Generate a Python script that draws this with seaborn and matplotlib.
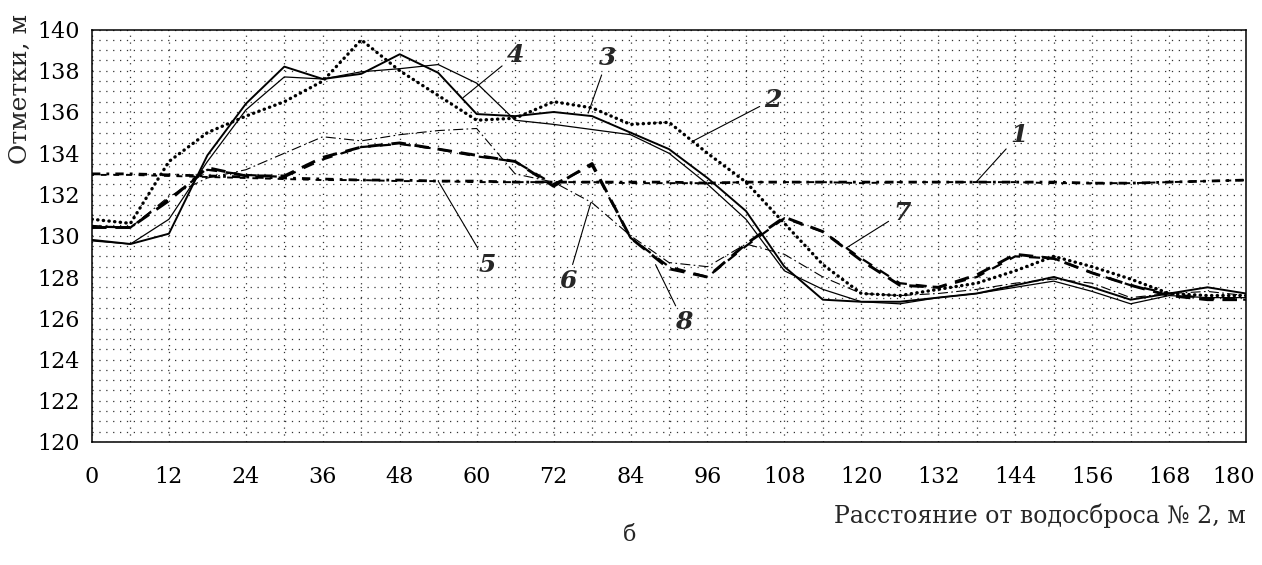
import matplotlib
matplotlib.use("Agg")
import matplotlib.pyplot as plt
import matplotlib.transforms as mtransforms
from matplotlib.ticker import FixedLocator, MultipleLocator
import seaborn as sns

sns.set_style("white")
plt.rcParams['font.family'] = ['DejaVu Serif']

# Distance along the channel, m
dist = [0, 6, 12, 18, 24, 30, 36, 42, 48, 54, 60, 66, 72, 78, 84, 90,
        96, 102, 108, 114, 120, 126, 132, 138, 144, 150, 156, 162, 168, 174, 180]

# Bed elevations, m
curve_1 = [133.0, 133.0, 132.95, 132.9, 132.85, 132.8, 132.75, 132.7, 132.7, 132.65, 132.65,
           132.6, 132.6, 132.6, 132.6, 132.6, 132.55, 132.6, 132.6, 132.6, 132.6, 132.6,
           132.6, 132.6, 132.6, 132.6, 132.55, 132.55, 132.6, 132.65, 132.7]
curve_2 = [130.8, 130.6, 133.6, 135.0, 135.8, 136.5, 137.5, 139.5, 138.0, 136.8, 135.6,
           135.7, 136.5, 136.2, 135.4, 135.5, 134.0, 132.6, 130.6, 128.6, 127.2, 127.1,
           127.4, 127.7, 128.3, 129.0, 128.5, 127.9, 127.2, 127.1, 127.1]
curve_3 = [129.75, 129.6, 130.8, 133.6, 136.1, 137.7, 137.6, 137.95, 138.1, 138.3, 137.4,
           135.6, 135.4, 135.15, 134.9, 134.0, 132.5, 130.8, 128.3, 127.4, 126.8, 126.7,
           127.0, 127.2, 127.5, 127.8, 127.3, 126.7, 127.1, 127.0, 127.0]
curve_4 = [129.8, 129.6, 130.1, 133.9, 136.4, 138.2, 137.6, 137.85, 138.8, 137.9, 135.9,
           135.8, 136.0, 135.8, 135.0, 134.2, 132.8, 131.2, 128.5, 126.9, 126.8, 126.8,
           127.0, 127.2, 127.6, 128.0, 127.5, 126.9, 127.2, 127.5, 127.2]
curve_5 = [132.95, 132.95, 132.9, 132.85, 132.8, 132.75, 132.7, 132.7, 132.65, 132.65, 132.6,
           132.6, 132.6, 132.6, 132.55, 132.55, 132.55, 132.6, 132.6, 132.6, 132.55, 132.6,
           132.6, 132.6, 132.6, 132.55, 132.55, 132.55, 132.6, 132.65, 132.7]
curve_6 = [130.5, 130.4, 131.9, 132.8, 133.2, 134.0, 134.8, 134.6, 134.9, 135.1, 135.2,
           133.0, 132.6, 131.6, 130.0, 128.7, 128.5, 129.6, 129.1, 128.0, 127.2, 127.1,
           127.2, 127.4, 127.7, 127.9, 127.7, 127.0, 127.2, 127.3, 127.1]
curve_7 = [130.4, 130.4, 131.7, 133.3, 132.9, 132.9, 133.8, 134.3, 134.5, 134.2, 133.9,
           133.6, 132.4, 133.5, 129.9, 128.4, 128.0, 129.6, 130.9, 130.2, 128.8, 127.6,
           127.5, 128.1, 129.1, 128.9, 128.2, 127.6, 127.1, 126.9, 126.9]
curve_8 = [130.45, 130.4, 131.8, 133.2, 132.95, 132.85, 133.7, 134.3, 134.45, 134.2, 133.85,
           133.6, 132.5, 133.4, 129.9, 128.5, 128.0, 129.5, 130.85, 130.2, 128.9, 127.7,
           127.5, 128.0, 129.0, 128.9, 128.2, 127.6, 127.2, 126.95, 126.9]

curves = {
    "1": (curve_1, dict(lw=2.0, linestyle=(0, (3, 2.2, 1, 2.2)))),
    "5": (curve_5, dict(lw=1.4, linestyle=(2, (3, 3.5)))),
    "2": (curve_2, dict(lw=2.4, linestyle=(0, (0.1, 1.6)), dash_capstyle='round')),
    "3": (curve_3, dict(lw=0.9, linestyle='-')),
    "4": (curve_4, dict(lw=1.4, linestyle='-')),
    "6": (curve_6, dict(lw=0.8, linestyle=(0, (9, 3, 1.5, 3)))),
    "7": (curve_7, dict(lw=2.1, linestyle=(0, (5, 3)))),
    "8": (curve_8, dict(lw=1.6, linestyle=(3, (5, 4)))),
}

# label: (text position, point on curve)
labels = {
    "1": ((144.6, 134.9), (137.9, 132.6)),
    "2": ((106.2, 136.6), (93.8, 134.6)),
    "3": ((80.4, 138.6), (77.4, 135.95)),
    "4": ((66.0, 138.75), (57.9, 136.7)),
    "5": ((61.7, 128.6), (54.0, 132.65)),
    "6": ((74.2, 127.8), (77.8, 131.6)),
    "7": ((126.3, 131.1), (117.6, 129.4)),
    "8": ((92.3, 125.8), (87.9, 128.6)),
}

x_major = [0, 12, 24, 36, 48, 60, 72, 84, 96, 108, 120, 132, 144, 156, 168, 180]
x_minor = [6, 30, 42, 54, 66, 78, 90, 102, 114, 126, 138, 150, 162, 174]
y_major = [120, 122, 124, 126, 128, 130, 132, 134, 136, 138, 140]

W, H = 1262, 565
fig = plt.figure(figsize=(W / 100, H / 100), dpi=100)
ax = fig.add_axes([92 / W, 1 - 442 / H, (1246 - 92) / W, (442 - 29.5) / H])

for name, (vals, style) in curves.items():
    sns.lineplot(x=dist, y=vals, ax=ax, color='black', zorder=3, **style)

for name, (txt_pos, pt) in labels.items():
    ax.annotate(name, xy=pt, xytext=txt_pos, ha='center', va='center',
                fontsize=18, fontweight='bold', fontstyle='italic', zorder=5,
                arrowprops=dict(arrowstyle='-', color='black', lw=0.8,
                                shrinkA=1, shrinkB=0))

ax.set_xlim(0, 180)
ax.set_ylim(120, 140)
ax.xaxis.set_major_locator(FixedLocator(x_major))
ax.xaxis.set_minor_locator(FixedLocator(x_minor))
ax.yaxis.set_major_locator(FixedLocator(y_major))
ax.yaxis.set_minor_locator(MultipleLocator(0.5))

grid_kw = dict(color='#333333', linewidth=0.9, linestyle=(0, (1, 4.5)))
ax.grid(True, which='major', **grid_kw)
ax.grid(True, which='minor', **grid_kw)
ax.set_axisbelow(True)

ax.tick_params(axis='both', which='both', length=0, labelsize=16, colors='black')
ax.tick_params(axis='x', pad=17)
ax.tick_params(axis='y', pad=9)

# last x tick label sits a little inside, as in the source figure
fig.canvas.draw()
last = ax.get_xticklabels()[-1]
last.set_transform(last.get_transform() +
                   mtransforms.ScaledTranslation(-12 / 100, 0, fig.dpi_scale_trans))

for spine in ax.spines.values():
    spine.set_visible(True)
    spine.set_color('black')
    spine.set_linewidth(1.1)

ax.set_xlabel("Расстояние от водосброса № 2, м", fontsize=17, ha='right')
ax.xaxis.set_label_coords(1.0, -0.15)
ax.set_ylabel("Отметки, м", fontsize=18, va='center')
ax.yaxis.set_label_coords(-0.062, 0.855)

fig.text(630 / W, 1 - 535 / H, "б", ha='center', va='center', fontsize=16)

fig.savefig("out.png", dpi=100, facecolor='white')
